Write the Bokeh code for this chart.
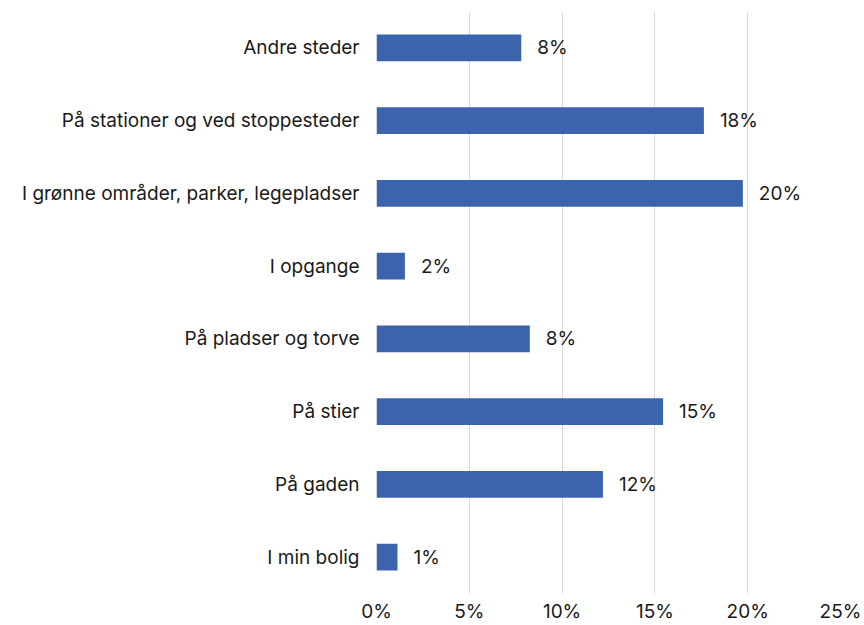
from bokeh.plotting import figure
from bokeh.models import FactorRange, Range1d, ColumnDataSource, FixedTicker, LabelSet, CustomJSTickFormatter
from bokeh.core.properties import value
from bokeh.embed import file_html
from bokeh.resources import INLINE

categories = ["Andre steder", "På stationer og ved stoppesteder", "I grønne områder, parker, legepladser",
              "I opgange", "På pladser og torve", "På stier", "På gaden", "I min bolig"]
values = [7.8, 17.64, 19.74, 1.53, 8.26, 15.44, 12.2, 1.13]
value_labels = ["8%", "18%", "20%", "2%", "8%", "15%", "12%", "1%"]
x_ticks = [0, 5, 10, 15, 20, 25]

FONT = "Inter"
FS = "19px"
BAR_COLOR = "#3c64ac"
TEXT_COLOR = "#1a1a1a"

src = ColumnDataSource(dict(cat=categories, val=values, lab=value_labels))

p = figure(width=862, height=625, output_backend="svg", toolbar_location=None,
           y_range=FactorRange(factors=list(reversed(categories)), range_padding=0),
           x_range=Range1d(0, 25))
p.min_border_left = 376
p.min_border_right = 22
p.min_border_top = 11
p.min_border_bottom = 29
p.outline_line_color = None
p.background_fill_color = "white"
p.border_fill_color = "white"

p.hbar(y="cat", right="val", left=0, height=0.37, source=src, color=BAR_COLOR, line_color=None)

labels = LabelSet(x="val", y="cat", text="lab", source=src, x_offset=16, y_offset=0,
                  text_baseline="middle", text_align="left", text_font=value(FONT),
                  text_font_size=value(FS), text_color=TEXT_COLOR)
p.add_layout(labels)

p.xaxis.ticker = FixedTicker(ticks=x_ticks)
p.xaxis.formatter = CustomJSTickFormatter(code="return tick + '%';")
p.xaxis.axis_line_color = None
p.xaxis.major_tick_line_color = None
p.xaxis.minor_tick_line_color = None
p.xaxis.major_tick_out = 0
p.xaxis.minor_tick_out = 0
p.xaxis.major_label_standoff = 6
p.xaxis.major_label_text_font = FONT
p.xaxis.major_label_text_font_size = FS
p.xaxis.major_label_text_color = TEXT_COLOR

p.yaxis.axis_line_color = None
p.yaxis.major_tick_line_color = None
p.yaxis.major_tick_out = 0
p.yaxis.major_label_standoff = 17
p.yaxis.major_label_text_font = FONT
p.yaxis.major_label_text_font_size = FS
p.yaxis.major_label_text_color = TEXT_COLOR

p.xgrid.ticker = FixedTicker(ticks=x_ticks)
p.xgrid.grid_line_color = "#d9d9d9"
p.xgrid.grid_line_width = 1
p.ygrid.grid_line_color = None

open("out.html", "w").write(file_html(p, INLINE))
